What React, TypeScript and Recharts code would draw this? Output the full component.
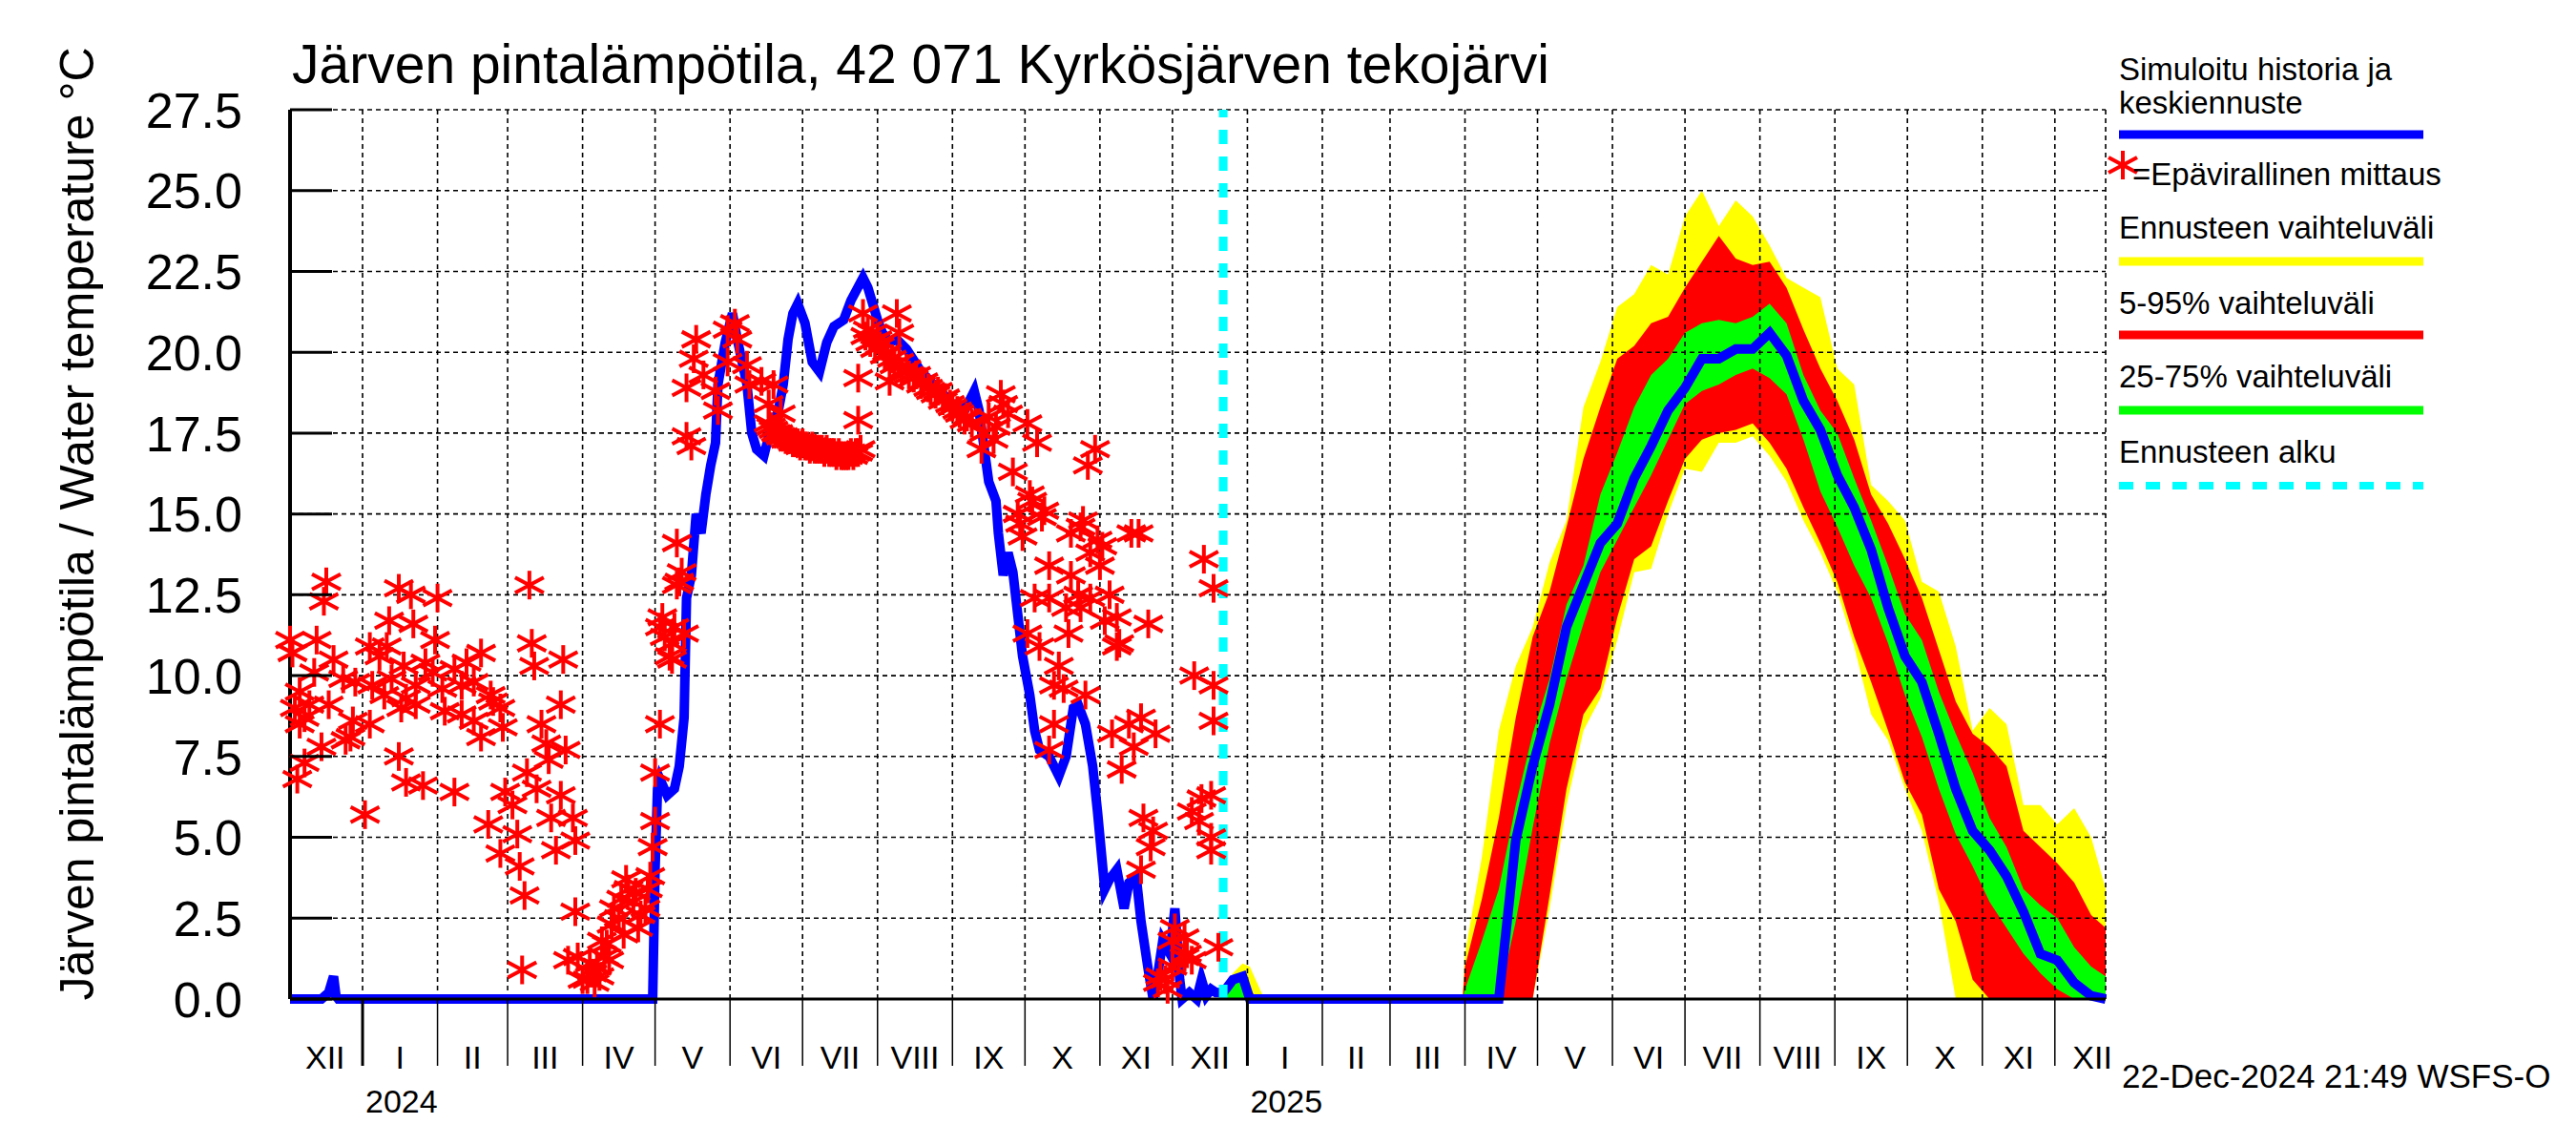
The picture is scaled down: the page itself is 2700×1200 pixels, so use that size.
import React from 'react';
import {Area, ComposedChart, Line, ReferenceLine, Scatter, XAxis, YAxis} from 'recharts';

const FONT = '"Liberation Sans", Arial, Helvetica, sans-serif';

// x = days counted from 2024-01-01
const START_DAY = -30; // 2023-12-02
const END_DAY = 721; // 2025-12-22
const FORECAST_START = 356; // 2024-12-22

const histDays = [-30, -17, -14, -12, -11, -10, 120, 121, 122, 123, 126, 129, 131, 133, 134, 136, 138, 140, 142, 144, 146, 147, 150, 153, 155, 159, 161, 163, 166, 168, 172, 174, 176, 178, 180, 183, 186, 189, 192, 195, 199, 202, 207, 209, 213, 215, 218, 221, 225, 231, 239, 244, 249, 253, 255, 257, 259, 262, 263, 265, 267, 269, 271, 273, 276, 278, 280, 284, 288, 291, 294, 296, 299, 302, 304, 307, 309, 312, 315, 317, 320, 322, 325, 327, 329, 331, 334, 336, 338, 339, 342, 345, 347, 349, 351, 353, 356];
const histTemps = [0, 0, 0.2, 0.7, 0.1, 0, 0, 4.0, 6.5, 6.8, 6.3, 6.5, 7.2, 8.7, 12.4, 13.1, 15.0, 14.4, 15.6, 16.5, 17.2, 19.0, 20.3, 21.2, 20.4, 19.0, 17.5, 17.0, 16.8, 17.4, 18.2, 19.0, 20.4, 21.2, 21.5, 20.9, 19.7, 19.4, 20.3, 20.8, 21.0, 21.6, 22.3, 22.0, 21.0, 20.6, 20.3, 20.4, 20.1, 19.4, 18.8, 18.4, 18.2, 18.8, 18.2, 17.1, 16.0, 15.4, 14.4, 13.1, 13.8, 13.2, 11.9, 10.6, 9.4, 8.3, 7.7, 7.5, 6.9, 7.5, 9.0, 9.1, 8.5, 7.2, 5.8, 3.4, 3.7, 4.0, 2.8, 3.6, 3.8, 2.4, 0.9, 0, 0.8, 1.8, 1.4, 2.8, 0.6, 0, 0.2, 0, 0.6, 0.1, 0.3, 0.2, 0.2];

const obsDays = [
  -30, -29, -28, -27, -26, -26, -24, -24, -22, -20, -19, -17, -16, -15, -14, -12, -8, -7, -5, -4, -3,
  1, 3, 3, 4, 7, 9, 10, 11, 12, 15, 15, 16, 17, 18, 18, 20, 21, 22, 22, 25, 26, 29, 30, 31, 33, 34, 38, 38,
  41, 41, 43, 46, 46, 49, 49, 52, 53, 54, 57, 57, 58, 59, 62, 64, 65, 66, 67, 68, 69, 70, 71, 72, 74, 76, 77,
  78, 80, 82, 82, 83, 84, 85, 87, 88, 88, 89, 91, 93, 94, 95, 96, 97, 98, 99, 100, 101, 102, 103, 104, 106,
  107, 108, 109, 110, 112, 113, 114, 115, 117, 118, 119, 120, 121, 121, 123, 123, 124, 125, 127, 128, 128,
  129, 130, 130, 131, 132, 133, 134, 134, 136, 137, 138, 141, 146, 147, 151, 151, 154, 155, 159, 160, 165,
  168, 170, 173,
  168, 169, 170, 171, 172, 173, 174, 175, 176, 177, 178, 179, 180, 181, 182, 183, 184, 185, 186, 187, 188,
  189, 190, 191, 192, 193, 194, 195, 196, 197, 198, 199, 200, 201, 202, 203, 204, 205, 206,
  205, 205, 207, 209,
  208, 210, 211, 212, 214, 216, 217, 219, 220, 222, 223, 225, 226, 228, 229, 231, 232, 234, 235, 237, 238,
  240, 241, 243, 244, 246, 247, 249, 250, 252,
  213, 218, 221, 222,
  256, 257, 259, 261, 262, 264, 265, 267, 269, 271, 272, 273, 275, 275, 276, 277, 278, 279, 280, 281, 282,
  284, 284, 284, 286, 286, 288, 290, 291, 292, 293, 293, 296, 297, 297, 298, 299, 300, 301, 301, 303, 304,
  305, 306, 307, 309, 310, 312, 312, 313, 314, 317, 318, 319, 321, 322, 322, 323, 325, 326, 327, 328, 329,
  330, 332, 333, 335, 335, 336, 340, 340, 341, 343, 343, 344, 346, 347, 348, 351, 351, 351, 352, 352, 352, 354,
];
const obsTemps = [
  11.1, 10.7, 9.0, 6.8, 9.5, 8.5, 8.7, 7.3, 9.1, 10.1, 11.1, 7.8, 12.3, 12.9, 9.1, 10.5, 9.9, 8.0, 8.1, 8.6, 9.8,
  5.7, 10.9, 8.5, 9.7, 10.6, 9.4, 10.9, 11.7, 9.9, 12.7, 7.5, 9.0, 10.3, 9.3, 6.7, 12.5, 11.6, 9.7, 9.1, 6.6, 10.4, 10.1, 11.1, 12.4, 9.6, 8.9, 10.2, 6.4,
  9.7, 8.8, 10.4, 9.8, 8.6, 10.7, 8.1, 5.4, 9.4, 9.2, 9.0, 4.5, 8.4, 6.4, 6.0, 5.1, 4.1, 0.9, 3.2, 7.0, 12.8, 11.0, 10.3, 6.5, 8.5, 7.9, 7.4,
  5.6, 4.6, 9.1, 6.3, 10.5, 7.7, 1.2, 5.6, 4.9, 2.7, 1.3, 0.6, 0.6, 1.1, 0.8, 0.5, 1.0, 0.7, 1.8, 1.3, 1.7, 1.2, 2.3, 2.8, 2.5,
  3.1, 2.0, 3.7, 3.4, 3.0, 3.3, 2.2, 2.6, 2.8, 3.4, 3.8, 4.7, 5.5, 7.0, 8.5, 11.5, 11.8, 11.2, 10.6, 10.5, 11.0,
  11.5, 12.8, 14.1, 12.9, 13.2, 11.3, 17.4, 18.9, 17.1, 19.8, 20.4, 19.3, 18.8, 18.2, 19.7, 20.7, 20.9, 20.4, 19.6, 19.0, 19.1,
  18.4, 19.0, 18.1,
  17.8, 17.7, 17.6, 17.5, 17.5, 17.4, 17.4, 17.3, 17.3, 17.3, 17.2, 17.2, 17.2, 17.1, 17.2, 17.1, 17.1, 17.0, 17.1, 17.0, 17.0,
  17.0, 17.0, 16.9, 17.0, 16.9, 16.9, 16.9, 16.8, 16.9, 16.8, 16.8, 16.8, 16.8, 16.9, 16.8, 16.9, 16.9, 17.0,
  17.9, 19.2, 21.2, 20.7,
  20.5, 20.3, 20.6, 20.1, 20.2, 19.9, 20.0, 19.8, 19.6, 19.7, 19.4, 19.5, 19.3, 19.2, 19.3, 19.0, 19.1, 18.9, 18.8, 18.7, 18.8,
  18.5, 18.6, 18.4, 18.3, 18.2, 18.1, 17.9, 18.0, 17.8,
  20.4, 19.1, 21.2, 20.6,
  17.0, 17.5, 18.0, 17.3, 17.7, 18.7, 18.4, 18.1, 16.3, 15.0, 14.7, 14.3, 17.8, 11.3, 15.6, 15.4, 12.4, 17.2, 10.9, 14.9, 15.1,
  13.4, 12.4, 7.7, 9.7, 8.5, 10.3, 9.6, 12.1, 11.3, 14.4, 13.1, 12.5, 14.6, 12.1, 14.8, 9.4, 16.5, 13.8, 12.4, 17.0, 14.2,
  13.4, 14.0, 11.7, 12.5, 8.2, 11.8, 10.9, 11.0, 7.1, 8.5, 14.4, 7.8, 14.4, 8.7, 4.0, 5.6, 11.6, 4.7, 5.2, 8.2, 0.5,
  0.7, 0.6, 0.3, 1.8, 1.0, 2.2, 1.9, 1.3, 1.4, 1.2, 5.8, 10.0, 5.5, 6.2, 13.6, 5.0, 4.6, 6.3, 12.7, 9.7, 8.6, 1.6,
];

const fcDays = [356, 360, 364, 367, 370, 373, 455, 456, 463, 470, 477, 484, 491, 498, 505, 512, 519, 526, 533, 540, 547, 554, 561, 568, 575, 582, 589, 596, 603, 610, 617, 624, 631, 638, 645, 652, 659, 666, 673, 680, 687, 694, 701, 708, 715, 721];
const fcMin = [0, 0, 0, 0, 0, 0, 0, 0, 0, 0, 0, 0, 2.8, 6.0, 8.3, 9.3, 11.1, 13.2, 13.3, 15.0, 16.4, 16.3, 17.2, 17.2, 17.4, 16.8, 16.0, 14.8, 13.8, 12.6, 10.9, 8.8, 8.0, 6.5, 5.2, 3.0, 0, 0, 0, 0, 0, 0, 0, 0, 0, 0];
const fcP5 = [0, 0, 0, 0, 0, 0, 0, 0, 0, 0, 0, 0, 3.2, 6.5, 8.8, 9.6, 11.8, 13.6, 14.0, 15.4, 16.7, 17.3, 17.5, 17.6, 17.8, 17.2, 16.4, 15.2, 14.1, 12.9, 11.2, 9.8, 8.3, 6.7, 5.7, 3.4, 2.4, 0.6, 0, 0, 0, 0, 0, 0, 0, 0];
const fcP25 = [0, 0, 0, 0, 0, 0, 0, 0, 0, 0, 2.4, 5.3, 7.9, 9.9, 11.6, 13.2, 14.2, 15.2, 16.2, 17.3, 18.4, 18.8, 19.0, 19.3, 19.5, 19.2, 18.7, 17.3, 15.7, 14.6, 13.4, 12.4, 11.0, 9.4, 8.1, 6.5, 5.1, 4.1, 3.0, 2.2, 1.4, 0.8, 0.3, 0, 0, 0];
const fcMed = [0.2, 0.6, 0.7, 0, 0, 0, 0, 0, 0, 0, 4.9, 7.2, 9.1, 11.5, 12.8, 14.1, 14.7, 16.1, 17.1, 18.2, 18.9, 19.8, 19.8, 20.1, 20.1, 20.6, 19.9, 18.5, 17.6, 16.2, 15.2, 13.9, 12.1, 10.6, 9.8, 8.2, 6.5, 5.2, 4.6, 3.8, 2.7, 1.4, 1.2, 0.5, 0.1, 0];
const fcP75 = [0.2, 0.6, 0.7, 0, 0, 0, 0, 0.3, 1.8, 3.4, 6.0, 8.2, 9.9, 12.2, 13.4, 15.6, 16.9, 18.3, 19.3, 19.8, 20.6, 20.9, 21.0, 20.9, 21.1, 21.5, 20.9, 19.3, 18.2, 17.5, 16.1, 14.8, 13.4, 11.9, 11.1, 9.5, 8.2, 7.0, 5.6, 4.7, 3.4, 2.9, 2.5, 1.6, 1.0, 0.7];
const fcP95 = [0.2, 0.7, 0.8, 0.3, 0, 0, 0, 1.0, 3.1, 5.6, 8.7, 11.2, 12.6, 14.6, 16.7, 18.3, 19.8, 20.2, 20.9, 21.1, 22.0, 22.8, 23.6, 22.9, 22.7, 22.8, 22.0, 20.7, 19.5, 18.5, 17.3, 15.6, 14.7, 13.6, 12.4, 10.8, 9.2, 8.2, 7.8, 7.2, 5.2, 4.7, 4.2, 3.6, 2.6, 2.2];
const fcMax = [0.2, 0.8, 1.1, 1.0, 0.5, 0, 0, 1.4, 4.4, 8.3, 10.3, 11.5, 13.5, 14.8, 18.3, 19.7, 21.4, 21.8, 22.7, 22.4, 24.2, 25.0, 23.9, 24.7, 24.2, 23.3, 22.3, 22.0, 21.7, 19.5, 19.0, 15.9, 15.4, 14.8, 12.9, 12.6, 10.9, 8.3, 9.0, 8.5, 6.0, 6.0, 5.4, 5.9, 5.0, 3.4];

const yTicks = [0, 2.5, 5, 7.5, 10, 12.5, 15, 17.5, 20, 22.5, 25, 27.5];
const ROMAN = ['I', 'II', 'III', 'IV', 'V', 'VI', 'VII', 'VIII', 'IX', 'X', 'XI', 'XII'];
const YEARS = [2024, 2025];

const histData = histDays.map((d, i) => ({d, t: histTemps[i]}));
const obsData = obsDays.map((d, i) => ({d, t: obsTemps[i]}));
const fcData = fcDays.map((d, i) => ({
  d,
  med: fcMed[i],
  yel: [fcMin[i], fcMax[i]],
  red: [fcP5[i], fcP95[i]],
  grn: [fcP25[i], fcP75[i]],
}));

const DAY_MS = 86400000;
const BASE = Date.UTC(2024, 0, 1);
const dayOf = (y: number, m: number) => Math.round((Date.UTC(y, m, 1) - BASE) / DAY_MS);

// month boundaries and label positions
const monthStarts: number[] = [];
const tickInfo = new Map<number, {kind: string; label: string}>();
const months: [number, number][] = [[2023, 11]];
YEARS.forEach(y => ROMAN.forEach((_, m) => months.push([y, m])));
months.forEach(([y, m]) => {
  const s = dayOf(y, m);
  const e = dayOf(y, m + 1);
  if (s >= START_DAY) {
    monthStarts.push(s);
    tickInfo.set(s, {kind: 'start', label: m === 0 ? String(y) : ''});
  }
  tickInfo.set((s + e) / 2, {kind: 'mid', label: ROMAN[m]});
});
const xTicks = Array.from(tickInfo.keys()).filter(v => v >= START_DAY && v <= END_DAY).sort((a, b) => a - b);

const MonthTick = (props: any) => {
  const {x, y, payload} = props;
  const info = tickInfo.get(payload.value);
  if (!info) return null;
  if (info.kind === 'start') {
    const isYear = info.label !== '';
    return (
      <g>
        <line x1={x} y1={y} x2={x} y2={y + 70} stroke="#000" strokeWidth={isYear ? 3 : 1.5}/>
        {isYear && <text x={x + 3} y={y + 119} fontSize={34} fontFamily={FONT} fill="#000">{info.label}</text>}
      </g>
    );
  }
  return <text x={x} y={y + 73} textAnchor="middle" fontSize={34} fontFamily={FONT} fill="#000">{info.label}</text>;
};

const TICK_GAP = 50;
const TempTick = (props: any) => {
  const {x, y, payload} = props;
  return (
    <g>
      <line x1={x + TICK_GAP} y1={y} x2={x + TICK_GAP + 44} y2={y} stroke="#000" strokeWidth={3}/>
      <text x={x} y={y} dy="0.36em" textAnchor="end" fontSize={52} fontFamily={FONT} fill="#000">
        {payload.value.toFixed(1)}
      </text>
    </g>
  );
};

const Asterisk = (props: any) => {
  const {cx, cy} = props;
  if (cx == null || cy == null) return null;
  return (
    <g stroke="#ff0000" strokeWidth={4}>
      <line x1={cx} y1={cy - 15} x2={cx} y2={cy + 15}/>
      <line x1={cx - 15} y1={cy - 8} x2={cx + 15} y2={cy + 8}/>
      <line x1={cx - 15} y1={cy + 8} x2={cx + 15} y2={cy - 8}/>
    </g>
  );
};

const legendText = {fontSize: 33, fontFamily: FONT, fill: '#000'};
const GRID = {stroke: '#000', strokeWidth: 1.6, strokeDasharray: '5 4'};

export default function App() {
  return (
    <div style={{position: 'absolute', left: 0, top: 0, width: 2700, height: 1200, background: '#fff'}}>
      <ComposedChart width={2700} height={1200} margin={{top: 115, right: 493, bottom: 0, left: 0}}>
        <XAxis dataKey="d" type="number" domain={[START_DAY, END_DAY]} ticks={xTicks} interval={0}
               height={153} tickSize={0} tickMargin={0} tickLine={false}
               axisLine={{stroke: '#000', strokeWidth: 3}} tick={<MonthTick/>}/>
        <YAxis type="number" domain={[0, 27.5]} ticks={yTicks} interval={0} width={304}
               tickSize={0} tickMargin={TICK_GAP} tickLine={false}
               axisLine={{stroke: '#000', strokeWidth: 4}} tick={<TempTick/>}/>
        <Area data={fcData} dataKey="yel" type="linear" stroke="none" fill="#ffff00" fillOpacity={1}
              dot={false} activeDot={false} isAnimationActive={false}/>
        <Area data={fcData} dataKey="red" type="linear" stroke="none" fill="#ff0000" fillOpacity={1}
              dot={false} activeDot={false} isAnimationActive={false}/>
        <Area data={fcData} dataKey="grn" type="linear" stroke="none" fill="#00ff00" fillOpacity={1}
              dot={false} activeDot={false} isAnimationActive={false}/>
        {yTicks.filter(v => v > 0).map(v => (
          <ReferenceLine key={'h' + v} y={v} {...GRID}/>
        ))}
        {[...monthStarts, END_DAY].map(v => (
          <ReferenceLine key={'v' + v} x={v} {...GRID}/>
        ))}
        <Line data={histData} dataKey="t" type="linear" stroke="#0000ff" strokeWidth={10}
              dot={false} activeDot={false} isAnimationActive={false}/>
        <Line data={fcData} dataKey="med" type="linear" stroke="#0000ff" strokeWidth={10}
              dot={false} activeDot={false} isAnimationActive={false}/>
        <Scatter data={obsData} dataKey="t" shape={<Asterisk/>} isAnimationActive={false}/>
        <ReferenceLine x={FORECAST_START} stroke="#00ffff" strokeWidth={9} strokeDasharray="15 13"/>
      </ComposedChart>
      <svg width={2700} height={1200} style={{position: 'absolute', left: 0, top: 0, pointerEvents: 'none'}}>
        <text x={306} y={87} fontSize={57} fontFamily={FONT} fill="#000">
          Järven pintalämpötila, 42 071 Kyrkösjärven tekojärvi
        </text>
        <text transform="translate(98,549) rotate(-90)" textAnchor="middle" fontSize={50} fontFamily={FONT} fill="#000">
          Järven pintalämpötila / Water temperature °C
        </text>
        <text x={2221} y={84} {...legendText}>Simuloitu historia ja</text>
        <text x={2221} y={119} {...legendText}>keskiennuste</text>
        <line x1={2221} y1={141} x2={2540} y2={141} stroke="#0000ff" strokeWidth={9}/>
        <Asterisk cx={2225} cy={173}/>
        <text x={2235} y={194} {...legendText}>=Epävirallinen mittaus</text>
        <text x={2221} y={250} {...legendText}>Ennusteen vaihteluväli</text>
        <line x1={2221} y1={274} x2={2540} y2={274} stroke="#ffff00" strokeWidth={9}/>
        <text x={2221} y={329} {...legendText}>5-95% vaihteluväli</text>
        <line x1={2221} y1={351} x2={2540} y2={351} stroke="#ff0000" strokeWidth={9}/>
        <text x={2221} y={406} {...legendText}>25-75% vaihteluväli</text>
        <line x1={2221} y1={430} x2={2540} y2={430} stroke="#00ff00" strokeWidth={9}/>
        <text x={2221} y={485} {...legendText}>Ennusteen alku</text>
        <line x1={2221} y1={509} x2={2540} y2={509} stroke="#00ffff" strokeWidth={8} strokeDasharray="15 13"/>
        <text x={2224} y={1140} fontSize={35} fontFamily={FONT} fill="#000">22-Dec-2024 21:49 WSFS-O</text>
      </svg>
    </div>
  );
}
